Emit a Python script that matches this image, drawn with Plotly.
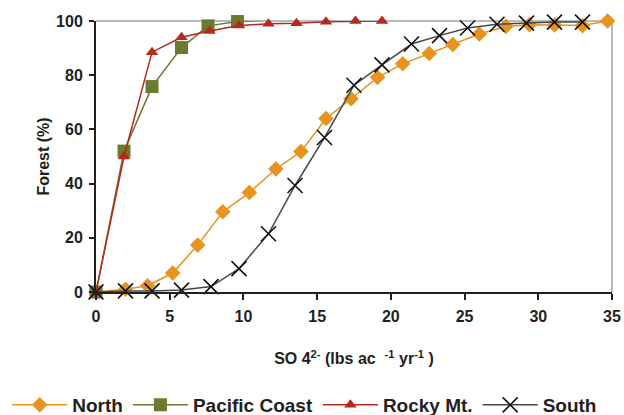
import plotly.graph_objects as go

# ---- data ----
north_x = [0, 2.0, 3.5, 5.2, 6.9, 8.6, 10.4, 12.2, 13.9, 15.6, 17.3, 19.1, 20.8, 22.6, 24.2, 26.0, 27.8, 29.4, 31.1, 33.0, 34.7]
north_y = [0, 1.0, 2.3, 7.0, 17.3, 29.6, 36.7, 45.4, 51.8, 64.0, 71.3, 79.2, 84.2, 88.0, 91.3, 95.2, 98.0, 98.6, 98.5, 98.3, 100.0]

pacific_x = [0, 1.9, 3.8, 5.8, 7.6, 9.6, 11.6]
pacific_y = [0, 52.0, 75.8, 90.2, 98.2, 99.8, 100.3]

rocky_x = [0, 1.9, 3.8, 5.8, 7.7, 9.7, 11.7, 13.6, 15.6, 17.6, 19.4]
rocky_y = [0, 50.0, 88.5, 94.0, 96.3, 98.3, 99.0, 99.2, 99.7, 100.0, 100.0]

south_x = [0, 2.0, 3.8, 5.8, 7.8, 9.7, 11.7, 13.5, 15.5, 17.5, 19.4, 21.4, 23.3, 25.2, 27.2, 29.2, 31.1, 33.0]
south_y = [0, 0.4, 0.4, 0.7, 2.0, 8.6, 21.5, 39.3, 57.0, 76.3, 83.8, 91.5, 94.6, 97.4, 98.8, 99.2, 99.6, 99.6]

x_ticks = [0, 5, 10, 15, 20, 25, 30, 35]
y_ticks = [0, 20, 40, 60, 80, 100]

FONT = "Liberation Sans, Arial, sans-serif"

fig = go.Figure()
fig.add_trace(go.Scatter(
    x=north_x, y=north_y, name="North", mode="lines+markers",
    line=dict(color="#E8931F", width=1.5),
    marker=dict(symbol="diamond", size=12, color="#E8931F"),
    cliponaxis=False))
fig.add_trace(go.Scatter(
    x=pacific_x, y=pacific_y, name="Pacific Coast", mode="lines+markers",
    line=dict(color="#6B7A2E", width=1.5),
    marker=dict(symbol="square", size=13, color="#6B7A2E"),
    cliponaxis=False))
fig.add_trace(go.Scatter(
    x=rocky_x, y=rocky_y, name="Rocky Mt.", mode="lines+markers",
    line=dict(color="#B8281E", width=1.5),
    marker=dict(symbol="triangle-up", size=11, color="#B8281E"),
    cliponaxis=False))
fig.add_trace(go.Scatter(
    x=south_x, y=south_y, name="South", mode="lines+markers",
    line=dict(color="#3F4A4A", width=1.5),
    marker=dict(symbol="x-thin-open", size=15, color="#111111",
                line=dict(color="#111111", width=1.6)),
    cliponaxis=False))

# gray top / right frame
fig.add_shape(type="line", xref="paper", yref="paper", x0=0, x1=1, y0=1, y1=1,
              line=dict(color="#A0A4A6", width=1.5), layer="below")
fig.add_shape(type="line", xref="paper", yref="paper", x0=1, x1=1, y0=0, y1=1,
              line=dict(color="#A0A4A6", width=1.5), layer="below")

fig.update_layout(
    width=624, height=415,
    margin=dict(l=96, r=12, t=21, b=123, autoexpand=False),
    paper_bgcolor="white", plot_bgcolor="white",
    font=dict(family=FONT, size=16, color="#231F20"),
    showlegend=True,
    legend=dict(orientation="h", x=-0.172, xanchor="left", y=-0.417, yanchor="middle",
                font=dict(family=FONT, size=19, color="#231F20", weight="bold"),
                itemwidth=55, tracegroupgap=0, bgcolor="rgba(0,0,0,0)"),
    xaxis=dict(range=[0, 35], tickvals=x_ticks, showgrid=False, zeroline=False,
               automargin=False,
               showline=True, linecolor="#231F20", linewidth=2,
               ticks="outside", ticklen=6, tickwidth=1.5, tickcolor="#231F20",
               ticklabelstandoff=3,
               tickfont=dict(family=FONT, size=16, weight="bold"),
               title=dict(text="SO 4<sup>2-</sup> (lbs ac  <sup>-1</sup> yr<sup>-1</sup> )",
                          font=dict(family=FONT, size=16, weight="bold"), standoff=29)),
    yaxis=dict(range=[0, 100], tickvals=y_ticks, showgrid=False, zeroline=False,
               automargin=False,
               showline=True, linecolor="#231F20", linewidth=2,
               ticks="outside", ticklen=5, tickwidth=1.5, tickcolor="#231F20",
               ticklabelstandoff=3,
               tickfont=dict(family=FONT, size=16, weight="bold"),
               title=dict(text="Forest (%)",
                          font=dict(family=FONT, size=16, weight="bold"), standoff=2)),
)

# place the figure at the page's top-left corner (no default body margin)
fig.write_html("out.html", config={"displayModeBar": False},
               post_script="document.body.style.margin='0';")
